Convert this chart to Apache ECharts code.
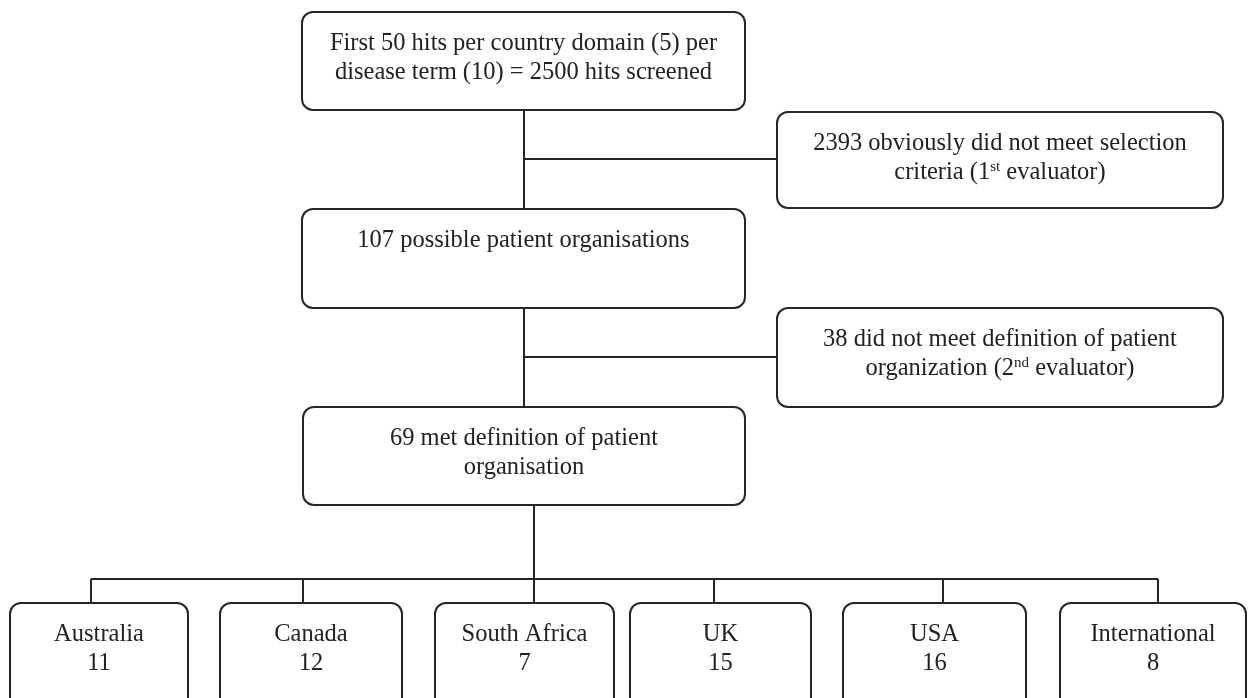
<!DOCTYPE html>
<html>
<head>
<meta charset="utf-8">
<script src="https://cdn.jsdelivr.net/npm/echarts@6/dist/echarts.min.js"></script>
<style>
html,body{margin:0;padding:0;background:#ffffff;}
#chart{width:1248px;height:698px;}
</style>
</head>
<body>
<div id="chart"></div>
<script>
// ---- content (data) ----
const stageLabels = [
  'First 50 hits per country domain (5) per\ndisease term (10) = 2500 hits screened',
  '107 possible patient organisations',
  '69 met definition of patient\norganisation'
];
const exclusionLabels = [
  '2393 obviously did not meet selection\ncriteria (1{sup|st} evaluator)',
  '38 did not meet definition of patient\norganization (2{sup|nd} evaluator)'
];
const countries = ['Australia', 'Canada', 'South Africa', 'UK', 'USA', 'International'];
const countryCounts = [11, 12, 7, 15, 16, 8];

// ---- layout (positions, in a 1248 x 698 diagram space) ----
const stageBoxes = [[302, 12, 745, 110], [302, 209, 745, 308], [303, 407, 745, 505]];
const exclusionBoxes = [[777, 112, 1223, 208], [777, 308, 1223, 407]];
const countryBoxes = [[10, 603, 188, 716], [220, 603, 402, 716], [435, 603, 614, 716],
                      [630, 603, 811, 716], [843, 603, 1026, 716], [1060, 603, 1246, 716]];
const countryDropX = [91, 303, 534, 714, 943, 1158];
const busY = 579;
const connectors = [
  [524, 110, 524, 209],
  [524, 159, 777, 159],
  [524, 308, 524, 407],
  [524, 357, 777, 357],
  [534, 505, 534, busY],
  [countryDropX[0], busY, countryDropX[countryDropX.length - 1], busY]
].concat(countryDropX.map(x => [x, busY, x, 603]));

// ---- build ----
const boxLabels = stageLabels
  .concat(exclusionLabels)
  .concat(countries.map((c, i) => c + '\n' + countryCounts[i]));
const boxData = stageBoxes.concat(exclusionBoxes).concat(countryBoxes);

const FONT = '"Liberation Serif", "Times New Roman", serif';
const INK = '#262626';
const TEXT = '#222222';

const chart = echarts.init(document.getElementById('chart'), null, {renderer: 'canvas'});
chart.setOption({
  backgroundColor: '#ffffff',
  animation: false,
  grid: {left: 0, right: 0, top: 0, bottom: 0},
  xAxis: {type: 'value', min: 0, max: 1248, show: false},
  yAxis: {type: 'value', min: 0, max: 698, inverse: true, show: false},
  series: [
    {
      type: 'custom',
      name: 'connectors',
      coordinateSystem: 'cartesian2d',
      z: 1,
      silent: true,
      data: connectors,
      renderItem: function (params, api) {
        const a = api.coord([api.value(0), api.value(1)]);
        const b = api.coord([api.value(2), api.value(3)]);
        return {
          type: 'line',
          shape: {x1: a[0], y1: a[1], x2: b[0], y2: b[1]},
          style: {stroke: INK, lineWidth: 2}
        };
      }
    },
    {
      type: 'custom',
      name: 'boxes',
      coordinateSystem: 'cartesian2d',
      z: 2,
      silent: true,
      data: boxData,
      renderItem: function (params, api) {
        const p1 = api.coord([api.value(0), api.value(1)]);
        const p2 = api.coord([api.value(2), api.value(3)]);
        const label = boxLabels[params.dataIndex];
        return {
          type: 'group',
          children: [
            {
              type: 'rect',
              shape: {x: p1[0], y: p1[1], width: p2[0] - p1[0], height: p2[1] - p1[1], r: 11},
              style: {fill: '#ffffff', stroke: INK, lineWidth: 2}
            },
            {
              type: 'text',
              x: (p1[0] + p2[0]) / 2,
              y: p1[1] + 17,
              style: {
                text: label,
                fill: TEXT,
                fontFamily: FONT,
                fontSize: 24.5,
                lineHeight: 29,
                align: 'center',
                verticalAlign: 'top',
                rich: {
                  sup: {fontFamily: FONT, fontSize: 15, lineHeight: 29, verticalAlign: 'top', padding: [2, 0, 0, 0], fill: TEXT}
                }
              }
            }
          ]
        };
      }
    }
  ]
});
</script>
</body>
</html>
